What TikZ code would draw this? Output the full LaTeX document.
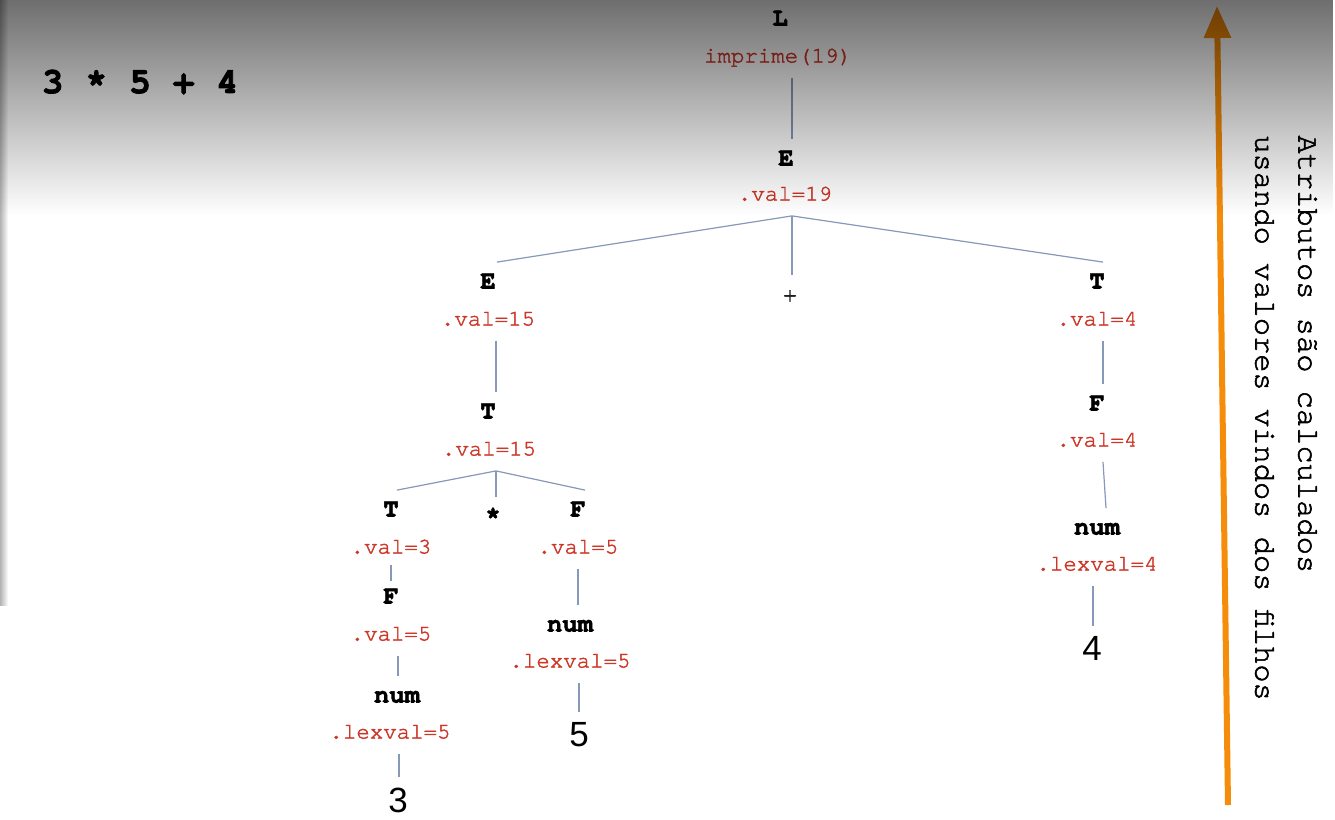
\documentclass[tikz,border=0pt]{standalone}
\usepackage{fontspec}
\setsansfont{Liberation Sans}
\newfontfamily\cour{texgyrecursor-regular.otf}[FakeBold=1.8]
\newfontfamily\courb{texgyrecursor-bold.otf}[FakeBold=2.5]
\usetikzlibrary{arrows.meta, fadings}
\definecolor{attrred}{RGB}{205,55,40}
\definecolor{edgeblue}{RGB}{135,152,185}
\definecolor{uporange}{RGB}{245,140,10}
\tikzfading[name=topfade, top color=transparent!0, bottom color=transparent!100]
\tikzstyle{sym} = [font=\courb\fontsize{12.8}{14}\selectfont, text height=8pt, text depth=2.5pt, inner sep=5pt]
\tikzstyle{attr} = [sym, font=\cour\fontsize{11.2}{13}\selectfont, text=attrred]
\tikzstyle{leaf} = [font=\sffamily\fontsize{17.5}{20}\selectfont, inner sep=5pt]
\tikzstyle{edge} = [draw=edgeblue, line width=0.6pt]
\tikzstyle{stub} = [edge, shorten <=-2pt, shorten >=-2pt]
\tikzstyle{arrow} = [draw=uporange, line width=3pt, -{Triangle[width=13pt,length=16pt]}]

\begin{document}
\begin{tikzpicture}[x=0.5pt, y=-0.5pt]
            \useasboundingbox (0,0) rectangle (1335,820);
            \fill [white] (0,0) rectangle (1335,820);
            \shade [left color=black!30, right color=white] (0,0) rectangle (8,605);
            \node [font=\courb\fontsize{18.2}{22}\selectfont] at (140,82) (expr) {3 * 5 + 4};
            \node [sym] at (780,20) (l) {L};
            \node [attr] at (778,57) (lv) {imprime(19)};
            \node [sym] at (786,160) (e1) {E};
            \node [attr] at (785,195) (e1v) {.val=19};
            \node [sym] at (488,283) (e2) {E};
            \node [attr] at (488,320) (e2v) {.val=15};
            \node [sym, font=\cour\fontsize{11.2}{13}\selectfont] at (790,296) (plus) {+};
            \node [sym] at (1097,283) (t1) {T};
            \node [attr] at (1097,320) (t1v) {.val=4};
            \node [sym] at (488,413) (t2) {T};
            \node [attr] at (489,450) (t2v) {.val=15};
            \node [sym] at (391,511) (t3) {T};
            \node [attr] at (391,548) (t3v) {.val=3};
            \node [sym] at (493,518) (times) {*};
            \node [sym] at (578,511) (f2) {F};
            \node [attr] at (578,548) (f2v) {.val=5};
            \node [sym] at (391,598) (f3) {F};
            \node [attr] at (391,635) (f3v) {.val=5};
            \node [sym] at (397,697) (num3) {num};
            \node [attr] at (390,733) (num3v) {.lexval=5};
            \node [leaf] at (398,800) (three) {3};
            \node [sym] at (570,626) (num2) {num};
            \node [attr] at (570,662) (num2v) {.lexval=5};
            \node [leaf] at (579,735) (five) {5};
            \node [sym] at (1097,405) (f1) {F};
            \node [attr] at (1097,441) (f1v) {.val=4};
            \node [sym] at (1097,529) (num1) {num};
            \node [attr] at (1097,565) (num1v) {.lexval=4};
            \node [leaf] at (1092,648) (four) {4};
            \draw [edge] ([xshift=3pt]e1.north |- lv.south) -- ([xshift=3pt]e1.north);
            \draw [edge] ([xshift=3.5pt]e1v.south) -- ([xshift=4.5pt]e2.north);
            \draw [edge] ([xshift=3.5pt]e1v.south) -- ([xshift=1pt]plus.north);
            \draw [edge] ([xshift=3.5pt]e1v.south) -- ([xshift=3pt]t1.north);
            \draw [edge] ([xshift=4pt]t2.north |- e2v.south) -- ([xshift=4pt]t2.north);
            \draw [edge] ([xshift=3.5pt]t2v.south) -- ([xshift=3pt]t3.north);
            \draw [edge] ([xshift=3.5pt]t2v.south) -- ([xshift=1.5pt]times.north);
            \draw [edge] ([xshift=3.5pt]t2v.south) -- ([xshift=3.5pt]f2.north);
            \draw [stub] (f3.north |- t3v.south) -- (f3.north);
            \draw [edge] ([xshift=3.5pt]f3v.south) -- ([xshift=0.5pt]num3.north);
            \draw [edge] ([xshift=0.5pt]three.north |- num3v.south) -- ([xshift=0.5pt]three.north);
            \draw [edge] (f2v.south) -- ([xshift=4pt]num2.north);
            \draw [edge] (five.north |- num2v.south) -- (five.north);
            \draw [edge] ([xshift=3pt]f1.north |- t1v.south) -- ([xshift=3pt]f1.north);
            \draw [edge] ([xshift=3pt]f1v.south) -- ([xshift=4.5pt]num1.north);
            \draw [edge] ([xshift=0.5pt]four.north |- num1v.south) -- ([xshift=0.5pt]four.north);
            \coordinate (up0) at (1228,805);
            \coordinate (up1) at (1217,6);
            \draw [arrow] (up0) -- (up1);
            \node [font=\cour\fontsize{15.2}{21.5}\selectfont, rotate=-90, anchor=west, align=left, inner sep=0pt] at (1286,135) (note) {Atributos são calculados\\usando valores vindos dos filhos};
            \fill [black, path fading=topfade, fill opacity=0.57] (0,0) rectangle (1335,215);
            \end{tikzpicture}
\end{document}
